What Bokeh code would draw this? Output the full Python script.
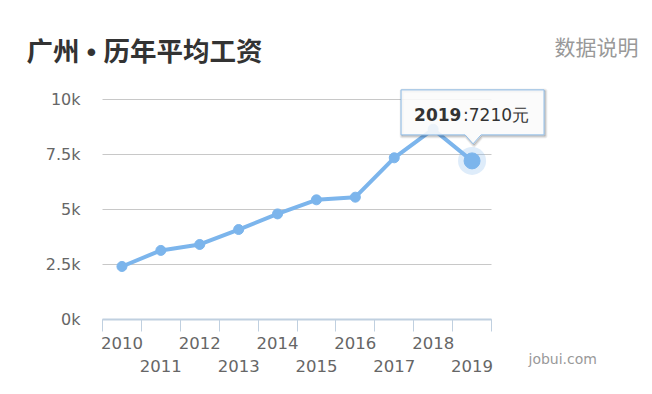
from bokeh.plotting import figure
from bokeh.models import Range1d, FixedTicker
from bokeh.core.properties import value
from bokeh.embed import file_html
from bokeh.resources import INLINE

# --- data -------------------------------------------------------------
years = ["2010", "2011", "2012", "2013", "2014", "2015", "2016", "2017", "2018", "2019"]
wages = [2410, 3140, 3410, 4090, 4800, 5440, 5560, 7350, 8650, 7210]
y_ticks = [0, 2500, 5000, 7500, 10000]
y_tick_labels = ["0k", "2.5k", "5k", "7.5k", "10k"]
highlight = 9  # year shown in the tooltip

title_text = "广州 • 历年平均工资"
note_text = "数据说明"
source_text = "jobui.com"

# --- geometry ------------------------------------------------------------
# The frame fills the whole canvas; the axes are pinned inside it so that
# titles and captions in the margins are not clipped.
W, H = 652, 394
AXIS_X_PX, AXIS_Y_PX = 102, 319   # canvas position of the (first band edge, 0)
CAT_PX = 38.9                     # pixels per category band
VAL_PX = 220 / 10000              # pixels per unit of wage

x_start = -0.5 - AXIS_X_PX / CAT_PX
x_end = x_start + W / CAT_PX
y_start = -(H - AXIS_Y_PX) / VAL_PX
y_end = AXIS_Y_PX / VAL_PX


def px_x(px):
    """canvas x pixel -> data x"""
    return x_start + px / CAT_PX


def px_y(py):
    """canvas y pixel (from top) -> data y"""
    return (AXIS_Y_PX - py) / VAL_PX


def off_x(px):
    return px / CAT_PX


def off_y(py):
    # screen offset (downwards positive) -> data offset
    return -py / VAL_PX


idx = list(range(len(years)))
edges = [i - 0.5 for i in range(len(years) + 1)]

p = figure(width=W, height=H, output_backend="svg", toolbar_location=None,
           title=None, x_range=Range1d(x_start, x_end), y_range=Range1d(y_start, y_end),
           min_border=0)
p.outline_line_color = None
p.background_fill_color = "white"
p.border_fill_color = "white"
p.xgrid.visible = False
p.ygrid.visible = False

# horizontal grid lines across the category bands only
p.segment(x0=[edges[0]] * len(y_ticks), x1=[edges[-1]] * len(y_ticks),
          y0=y_ticks, y1=y_ticks, line_color="#c8c8c8", line_width=1)

# --- y axis -------------------------------------------------------------
ya = p.yaxis[0]
ya.fixed_location = edges[0]
ya.ticker = FixedTicker(ticks=y_ticks, minor_ticks=[])
ya.bounds = (y_ticks[0], y_ticks[-1])
ya.major_label_overrides = {t: s for t, s in zip(y_ticks, y_tick_labels)}
ya.axis_line_color = None
ya.major_tick_line_color = None
ya.minor_tick_line_color = None
ya.major_tick_out = 0
ya.major_tick_in = 0
ya.major_label_standoff = 22
ya.major_label_text_font = "DejaVu Sans"
ya.major_label_text_font_size = "16px"
ya.major_label_text_color = "#666666"

# --- x axis (labels at band centres, ticks at band edges) ---------------
xa = p.xaxis[0]
xa.fixed_location = 0
xa.ticker = FixedTicker(ticks=idx, minor_ticks=edges)
xa.bounds = (edges[0], edges[-1])
xa.major_label_overrides = {i: (y if i % 2 == 0 else "\n" + y) for i, y in enumerate(years)}
xa.axis_line_color = "#c0d0e0"
xa.axis_line_width = 2
xa.major_tick_line_color = None
xa.major_tick_out = 0
xa.major_tick_in = 0
xa.minor_tick_line_color = "#c0d0e0"
xa.minor_tick_line_width = 1
xa.minor_tick_out = 12
xa.minor_tick_in = 0
xa.major_label_standoff = 2
xa.major_label_text_font = "DejaVu Sans"
xa.major_label_text_font_size = "16.5px"
xa.major_label_text_color = "#666666"
xa.major_label_text_line_height = 1.25

# --- series ---------------------------------------------------------------
blue = "#7cb5ec"
p.line(idx, wages, line_color=blue, line_width=4)
p.scatter(idx, wages, size=10, fill_color=blue, line_color=blue)

hx, hy = idx[highlight], wages[highlight]
p.scatter([hx], [hy], size=28, fill_color=blue, fill_alpha=0.25, line_color=None)
p.scatter([hx], [hy], size=16, fill_color=blue, line_color=blue)

# --- tooltip callout -------------------------------------------------------
L, R, T, B = -71, 72, -71, -26
shape = [(L, T), (R, T), (R, B), (9, B), (1, -17), (-7, B), (L, B)]
cx = [hx + off_x(sx) for sx, sy in shape]
cy = [hy + off_y(sy) for sx, sy in shape]
# soft stroked shadow, offset down-right by one pixel
for w, a in [(5, 0.05), (3, 0.10), (1, 0.15)]:
    p.patch([x + off_x(1) for x in cx], [y + off_y(1) for y in cy],
            fill_color=None, line_color="black", line_alpha=a, line_width=w,
            line_join="round")
p.patch(cx, cy, fill_color="#fbfbfb", fill_alpha=0.88,
        line_color="#8fbde9", line_width=1)

p.text(x=[hx + off_x(-58)], y=[hy + off_y(-46)], text=[years[highlight]],
       text_align="left", text_baseline="middle", text_font=value("DejaVu Sans"),
       text_font_style="bold", text_font_size="17px", text_color="#333333")
p.text(x=[hx + off_x(57)], y=[hy + off_y(-46)], text=[f":{wages[highlight]}元"],
       text_align="right", text_baseline="middle", text_font=value("DejaVu Sans"),
       text_font_size="17px", text_color="#333333")

# --- titles and captions --------------------------------------------------
p.text(x=[px_x(26)], y=[px_y(51)], text=[title_text], text_align="left",
       text_baseline="middle", text_font=value("'Liberation Sans', 'Noto Sans CJK SC'"),
       text_font_style="bold", text_font_size="26.5px", text_color="#333333")
p.text(x=[px_x(638)], y=[px_y(45)], text=[note_text], text_align="right",
       text_baseline="middle", text_font=value("Noto Sans CJK SC"),
       text_font_size="21px", text_color="#999999")
p.text(x=[px_x(528)], y=[px_y(358)], text=[source_text], text_align="left",
       text_baseline="middle", text_font=value("DejaVu Sans"),
       text_font_size="14px", text_color="#999999")

open("out.html", "w").write(file_html(p, INLINE))
